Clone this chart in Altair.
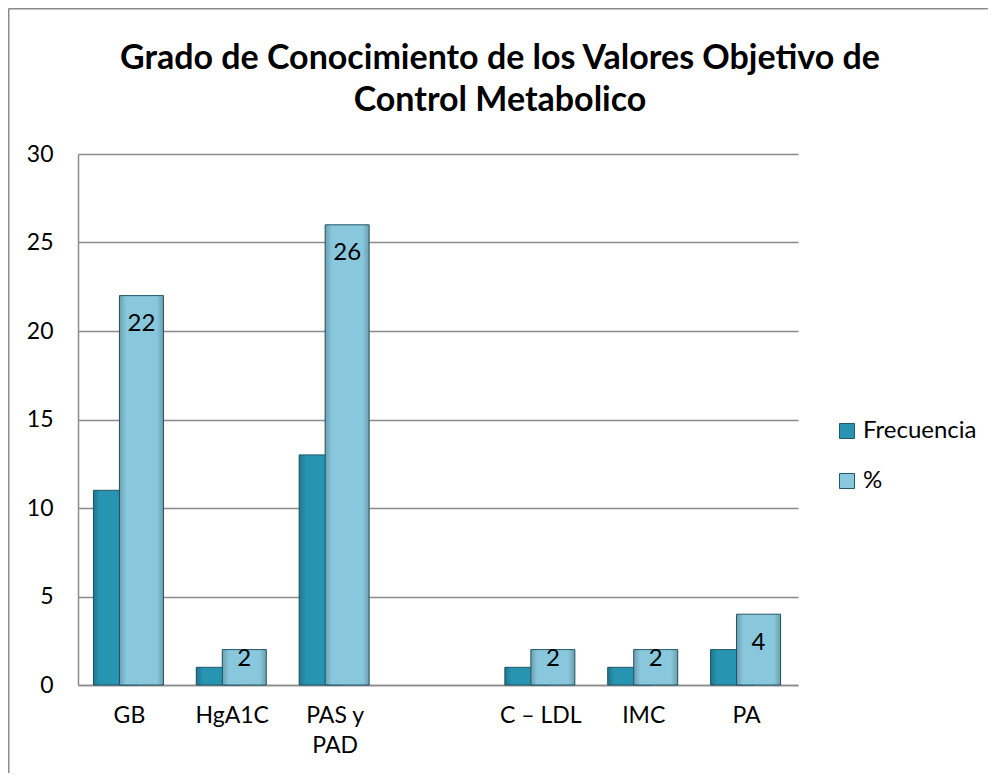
import altair as alt
import pandas as pd

# ---- data ----
categories = ["GB", "HgA1C", "PAS y\nPAD", " ", "C – LDL", "IMC", "PA"]
bar_categories = ["GB", "HgA1C", "PAS y\nPAD", "C – LDL", "IMC", "PA"]
frecuencia = [11, 1, 13, 1, 1, 2]
porcentaje = [22, 2, 26, 2, 2, 4]
series = ["Frecuencia", "%"]
colors = ["#2794B1", "#88C7DC"]
y_ticks = [0, 5, 10, 15, 20, 25, 30]
title_lines = ["Grado de Conocimiento de los Valores Objetivo de", "Control Metabolico"]

df = pd.DataFrame({
    "cat": bar_categories * 2,
    "serie": [series[0]] * len(frecuencia) + [series[1]] * len(porcentaje),
    "valor": frecuencia + porcentaje,
})

W, H = 720, 531
FONT = "Lato"
GRID = "#8a8a8a"
EDGE = "#24596a"
FS = 23

x_enc = alt.X(
    "cat:N",
    scale=alt.Scale(domain=categories, paddingInner=0, paddingOuter=0),
    axis=alt.Axis(
        title=None, labelAngle=0, ticks=False, labelPadding=19, labelFontSize=FS,
        labelColor="black", domainColor=GRID, domainWidth=1.5, grid=False,
        labelLineHeight=30, labelExpr="split(datum.label, '\\n')",
    ),
)
y_enc = alt.Y(
    "valor:Q",
    scale=alt.Scale(domain=[0, 30], nice=False),
    axis=alt.Axis(
        title=None, values=y_ticks, ticks=False, labelPadding=25, labelFontSize=FS,
        labelColor="black", domainColor=GRID, domainWidth=1.5, grid=True,
        gridColor=GRID, gridWidth=1.5,
    ),
)
color_enc = alt.Color(
    "serie:N",
    scale=alt.Scale(domain=series, range=colors),
    legend=alt.Legend(
        title=None, orient="none", legendX=757, legendY=265, symbolType="square",
        symbolSize=225, labelFontSize=24, rowPadding=26, labelOffset=4,
        symbolStrokeColor=EDGE, symbolStrokeWidth=1, labelColor="black",
    ),
)

shade = alt.Gradient(
    gradient="linear", x1=0, x2=1, y1=0, y2=0,
    stops=[
        alt.GradientStop(offset=0, color="rgba(0,0,0,0.20)"),
        alt.GradientStop(offset=0.15, color="rgba(0,0,0,0)"),
        alt.GradientStop(offset=0.85, color="rgba(0,0,0,0)"),
        alt.GradientStop(offset=1, color="rgba(0,0,0,0.20)"),
    ],
)

base = alt.Chart(df)

frec = base.transform_filter(alt.datum.serie == series[0]).mark_bar(
    width=44, xOffset=-14, stroke=EDGE, strokeWidth=1
).encode(x=x_enc, y=y_enc, color=color_enc)
frec_sh = base.transform_filter(alt.datum.serie == series[0]).mark_bar(
    width=44, xOffset=-14, fill=shade
).encode(x=x_enc, y=y_enc)

pct = base.transform_filter(alt.datum.serie == series[1]).mark_bar(
    width=44, xOffset=12, stroke=EDGE, strokeWidth=1
).encode(x=x_enc, y=y_enc, color=color_enc)
pct_sh = base.transform_filter(alt.datum.serie == series[1]).mark_bar(
    width=44, xOffset=12, fill=shade
).encode(x=x_enc, y=y_enc)

labels = base.transform_filter(alt.datum.serie == series[1]).transform_calculate(
    ly="max(datum.valor - 1.6, 1.45)"
).mark_text(xOffset=12, fontSize=24, baseline="middle", color="black").encode(
    x=x_enc, y=alt.Y("ly:Q"), text="valor:Q"
)

frame_df = pd.DataFrame({"k": [0]})
left_border = alt.Chart(frame_df).mark_rule(color="#8c8c8c", strokeWidth=2).encode(
    x=alt.value(-69.5), y=alt.value(-145.5), y2=alt.value(H + 200)
)
top_border = alt.Chart(frame_df).mark_rule(color="#8c8c8c", strokeWidth=2).encode(
    x=alt.value(-69.5), x2=alt.value(W + 300), y=alt.value(-145.5)
)

chart = alt.layer(
    frec, frec_sh, pct, pct_sh, labels, left_border, top_border
).properties(
    width=W, height=H,
    title=alt.TitleParams(
        text=title_lines, anchor="middle", frame="group", dx=62, offset=-110,
        fontSize=34, fontWeight="bold", font=FONT, color="black", lineHeight=42,
    ),
    autosize=alt.AutoSizeParams(type="none"),
    padding={"left": 70, "top": 146, "right": 190, "bottom": 88},
).configure(font=FONT).configure_view(stroke=None)

chart.save("out.html", embed_options={"renderer": "svg", "actions": False})
